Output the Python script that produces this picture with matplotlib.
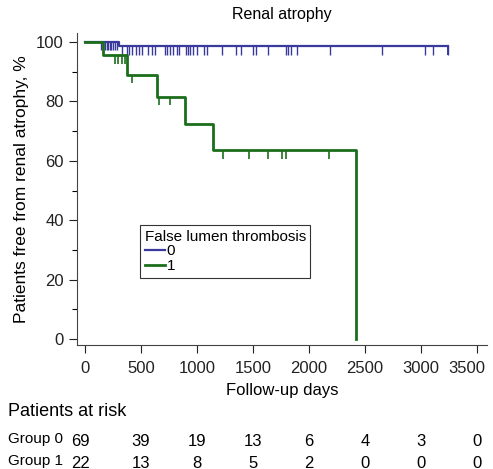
import numpy as np
import matplotlib
matplotlib.use('Agg')
import matplotlib.pyplot as plt
import matplotlib.transforms as mtransforms

plt.rcParams['font.family'] = ['Liberation Sans', 'DejaVu Sans']

# group 0 (no false lumen thrombosis)
g0_event_days = [301]
g0_surv = [100, 98.55]
g0_censor_pre = [143, 179, 196, 210, 223, 237, 250, 268, 286]
g0_censor_post = [328, 372, 396, 417, 455, 485, 506, 565, 596, 625, 714, 735, 759,
                  788, 819, 839, 902, 922, 938, 967, 997, 1062, 1087, 1221, 1348,
                  1393, 1503, 1527, 1637, 1792, 1813, 1835, 1890, 2188, 2649, 3036,
                  3104, 3244]
g0_end = 3244

# group 1 (false lumen thrombosis)
g1_event_days = [160, 372, 646, 893, 1146, 2417]
g1_surv = [100, 95.5, 89.0, 81.5, 72.5, 63.5, 0]
g1_censors = {95.5: [268, 297, 328, 357],
              89.0: [417],
              81.5: [661, 759],
              63.5: [1229, 1464, 1631, 1762, 1795, 2181]}

risk_days = [0, 500, 1000, 1500, 2000, 2500, 3000, 3500]
risk_g0 = [69, 39, 19, 13, 6, 4, 3, 0]
risk_g1 = [22, 13, 8, 5, 2, 0, 0, 0]

blue = '#3a3a9e'
green = '#1c6e1c'
tick_len = 2.8

fig = plt.figure(figsize=(4.93, 4.69), dpi=100)
ax = fig.add_axes([0.156, 0.2644, 0.832, 0.665])

# group 0 curve
x0 = [0] + g0_event_days + [g0_end]
y0 = g0_surv + [g0_surv[-1]]
ax.step(x0, y0, where='post', color=blue, lw=1.6, label='0', zorder=2)
ax.vlines(g0_censor_pre, g0_surv[0] - tick_len, g0_surv[0], color=blue, lw=1.0, zorder=2)
ax.vlines(g0_censor_post, g0_surv[1] - tick_len, g0_surv[1], color=blue, lw=1.0, zorder=2)
ax.vlines([g0_end], g0_surv[1] - tick_len, g0_surv[1], color=blue, lw=1.4, zorder=2)

# group 1 curve
x1 = [0] + g1_event_days
ax.step(x1, g1_surv, where='post', color=green, lw=2.0, label='1', zorder=3)
for lvl, days in g1_censors.items():
    ax.vlines(days, lvl - tick_len, lvl, color=green, lw=1.2, zorder=3)

ax.set_xlim(-71, 3589)
ax.set_ylim(-2, 103)
ax.set_xticks(risk_days)
ax.set_yticks(range(0, 101, 20))
ax.set_yticks(range(10, 100, 20), minor=True)
ax.tick_params(axis='both', labelsize=12, length=5.5, width=0.8, colors='#222222')
ax.tick_params(axis='x', pad=6)
ax.tick_params(axis='y', pad=4)
ax.tick_params(axis='y', which='minor', length=3.5, width=0.8)
for s in ['top', 'right']:
    ax.spines[s].set_visible(False)
for s in ['left', 'bottom']:
    ax.spines[s].set_linewidth(0.8)
    ax.spines[s].set_color('#444444')

# last x label sits a bit left of its tick, as in the original
last = ax.get_xticklabels()[-1]
last.set_transform(last.get_transform() +
                   mtransforms.ScaledTranslation(-0.1, 0, fig.dpi_scale_trans))

ax.set_title('Renal atrophy', fontsize=11.5, pad=10)
ax.set_xlabel('Follow-up days', fontsize=12, labelpad=5)
ax.set_ylabel('Patients free from renal atrophy, %', fontsize=12.5, labelpad=5)

leg = ax.legend(title='False lumen thrombosis', loc='upper left',
                bbox_to_anchor=(0.154, 0.385), fontsize=11, title_fontsize=11,
                frameon=True, fancybox=False, edgecolor='black',
                handlelength=1.3, handletextpad=0.15, borderpad=0.3,
                labelspacing=0.05, borderaxespad=0)
leg._legend_box.align = 'left'
leg.get_frame().set_linewidth(0.8)

# numbers at risk
trans = mtransforms.blended_transform_factory(ax.transData, fig.transFigure)
fig.text(8 / 493, 1 - 411 / 469, 'Patients at risk', fontsize=13, va='center')
fig.text(8 / 493, 1 - 439 / 469, 'Group 0', fontsize=11, va='center')
fig.text(8 / 493, 1 - 461 / 469, 'Group 1', fontsize=11, va='center')
for d, a, b in zip(risk_days, risk_g0, risk_g1):
    off = -40 if d == 0 else 0
    ax.text(d + off, 1 - 441 / 469, str(a), transform=trans, ha='center',
            va='center', fontsize=12)
    ax.text(d + off, 1 - 463 / 469, str(b), transform=trans, ha='center',
            va='center', fontsize=12)

fig.savefig('out.png', dpi=100)
